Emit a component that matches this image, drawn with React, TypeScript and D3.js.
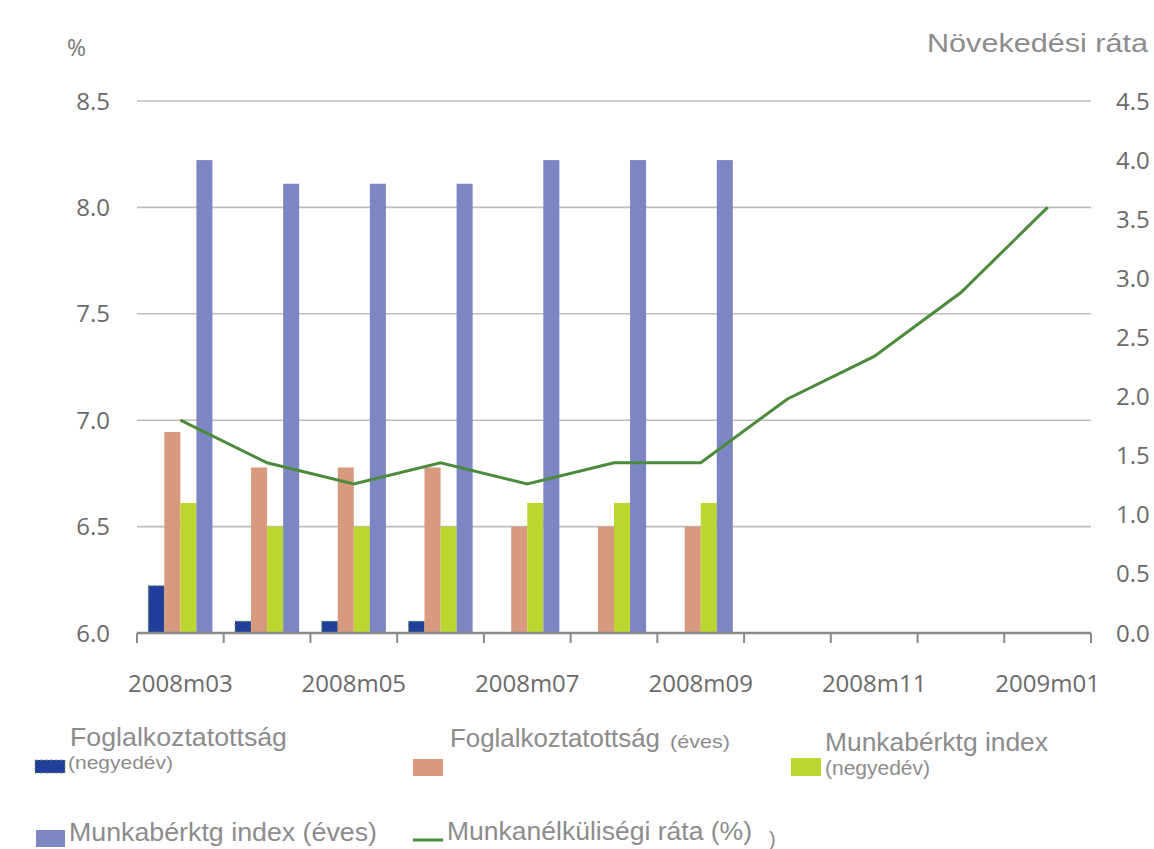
import React from "react";
import * as d3 from "d3";

const categories = ["2008m03", "2008m04", "2008m05", "2008m06", "2008m07", "2008m08", "2008m09", "2008m10", "2008m11", "2008m12", "2009m01"];
const tickLabels = ["2008m03", "2008m05", "2008m07", "2008m09", "2008m11", "2009m01"];
const emplQuarterly: (number | null)[] = [0.4, 0.1, 0.1, 0.1, null, null, null, null, null, null, null];
const emplAnnual: (number | null)[] = [1.7, 1.4, 1.4, 1.4, 0.9, 0.9, 0.9, null, null, null, null];
const wageQuarterly: (number | null)[] = [1.1, 0.9, 0.9, 0.9, 1.1, 1.1, 1.1, null, null, null, null];
const wageAnnual: (number | null)[] = [4.0, 3.8, 3.8, 3.8, 4.0, 4.0, 4.0, null, null, null, null];
const unemployment = [7.0, 6.8, 6.7, 6.8, 6.7, 6.8, 6.8, 7.1, 7.3, 7.6, 8.0];
const leftTicks = [6.0, 6.5, 7.0, 7.5, 8.0, 8.5];
const rightTicks = [0, 0.5, 1.0, 1.5, 2.0, 2.5, 3.0, 3.5, 4.0, 4.5];

const seriesKeys = ["eq", "ea", "wq", "wa"];
const seriesData: Record<string, (number | null)[]> = { eq: emplQuarterly, ea: emplAnnual, wq: wageQuarterly, wa: wageAnnual };
const colors: Record<string, string> = { eq: "#213f9a", ea: "#d89a7e", wq: "#bcd52f", wa: "#7b86c3", line: "#4d8b3c" };

export default function App() {
  const W = 1154, H = 849;
  const left = 137, right = 1091, top = 101, bottom = 633;
  const x = d3.scaleBand<string>().domain(categories).range([left, right]).paddingInner(0).paddingOuter(0);
  const bw = x.bandwidth();
  const inner = d3.scaleBand<string>().domain(seriesKeys).range([bw * 0.13, bw * 0.87]).padding(0);
  const yL = d3.scaleLinear().domain([6.0, 8.5]).range([bottom, top]);
  const yR = d3.scaleLinear().domain([0, 4.5]).range([bottom, top]);
  const fmt = d3.format(".1f");
  const line = d3.line<number>().x((_, i) => (x(categories[i]) as number) + bw / 2).y((d) => yL(d));
  const axisColor = "#6a6a6a";
  const legColor = "#8c8c8c";
  const axisFont = "'Open Sans', sans-serif";
  const legFont = "'Liberation Sans', Arial, sans-serif";
  const boundaries = categories.map((c) => x(c) as number).concat([right]);

  return (
    <svg width={W} height={H} style={{ position: "absolute", left: 0, top: 0, background: "#fff" }}>
      <rect x={0} y={0} width={W} height={H} fill="#fff" />
      {/* gridlines */}
      {leftTicks.filter((t) => t > 6.0).map((t) => (
        <line key={t} x1={left} x2={right} y1={yL(t)} y2={yL(t)} stroke="#bdbdbd" strokeWidth={1.6} />
      ))}
      {/* bars */}
      {seriesKeys.map((k) => (
        <g key={k}>
          {seriesData[k].map((v, i) =>
            v == null ? null : (
              <rect
                key={i}
                x={(x(categories[i]) as number) + (inner(k) as number)}
                y={yR(v)}
                width={inner.bandwidth()}
                height={bottom - yR(v)}
                fill={colors[k]}
                stroke={k === "eq" ? "#6f9a5e" : "none"}
                strokeWidth={k === "eq" ? 0.8 : 0}
                strokeDasharray={k === "eq" ? "3,2" : undefined}
              />
            )
          )}
        </g>
      ))}
      {/* x axis */}
      <line x1={left} x2={right} y1={bottom} y2={bottom} stroke="#8a8a8a" strokeWidth={2.5} />
      {boundaries.map((b, i) => (
        <line key={i} x1={b} x2={b} y1={bottom} y2={bottom + 10} stroke="#8a8a8a" strokeWidth={2} />
      ))}
      {tickLabels.map((c) => (
        <text key={c} x={(x(c) as number) + bw / 2} y={692} textAnchor="middle" fontFamily={axisFont} fontSize={24} fill={axisColor}>
          {c}
        </text>
      ))}
      {/* left axis labels */}
      {leftTicks.map((t) => (
        <text key={t} x={110} y={yL(t) + 8.5} textAnchor="end" fontFamily={axisFont} fontSize={24} fill={axisColor}>
          {fmt(t)}
        </text>
      ))}
      {/* right axis labels */}
      {rightTicks.map((t) => (
        <text key={t} x={1116} y={yR(t) + 8.5} textAnchor="start" fontFamily={axisFont} fontSize={24} fill={axisColor}>
          {fmt(t)}
        </text>
      ))}
      <text x={67} y={56} fontFamily={axisFont} fontSize={23} fill="#777">%</text>
      <text x={927} y={52} fontFamily={legFont} fontSize={25} fill={legColor} textLength={221} lengthAdjust="spacingAndGlyphs">Növekedési ráta</text>
      {/* line */}
      <path d={line(unemployment) || ""} fill="none" stroke={colors.line} strokeWidth={3} />
      {/* legend */}
      <g fontFamily={legFont} fill={legColor}>
        <rect x={35} y={760} width={30} height={13} fill={colors.eq} stroke="#6f9a5e" strokeWidth={0.8} strokeDasharray="3,2" />
        <text x={70} y={746} fontSize={25} textLength={217} lengthAdjust="spacingAndGlyphs">Foglalkoztatottság</text>
        <text x={68} y={769} fontSize={19} textLength={105} lengthAdjust="spacingAndGlyphs">(negyedév)</text>

        <rect x={413} y={759} width={30} height={17} fill={colors.ea} />
        <text x={450} y={747} fontSize={25} textLength={210} lengthAdjust="spacingAndGlyphs">Foglalkoztatottság</text>
        <text x={670} y={748} fontSize={19} textLength={60} lengthAdjust="spacingAndGlyphs">(éves)</text>

        <rect x={791} y={758} width={30} height={18} fill={colors.wq} />
        <text x={825} y={751} fontSize={25} textLength={223} lengthAdjust="spacingAndGlyphs">Munkabérktg index</text>
        <text x={825} y={775} fontSize={20} textLength={105} lengthAdjust="spacingAndGlyphs">(negyedév)</text>

        <rect x={36} y={830} width={29} height={17} fill={colors.wa} />
        <text x={69} y={841} fontSize={25} textLength={308} lengthAdjust="spacingAndGlyphs">Munkabérktg index (éves)</text>

        <line x1={413} x2={443} y1={840} y2={840} stroke={colors.line} strokeWidth={3} />
        <text x={447} y={840} fontSize={25} textLength={305} lengthAdjust="spacingAndGlyphs">Munkanélküliségi ráta (%)</text>
        <text x={769} y={846} fontSize={20}>)</text>
      </g>
    </svg>
  );
}
